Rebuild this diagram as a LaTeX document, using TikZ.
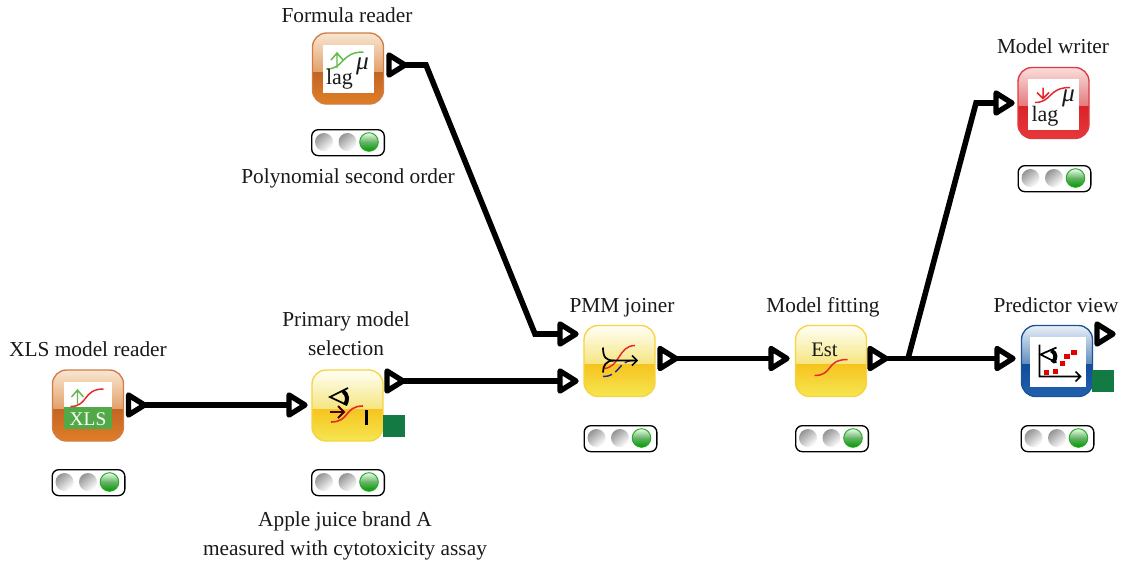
\documentclass[tikz,border=0pt]{standalone}
\usepackage{fontspec}
\setmainfont{Liberation Serif}
\usetikzlibrary{shapes.geometric,arrows.meta}
\definecolor{sqgreen}{HTML}{127A42}
\tikzset{
  px/.style={x=0.75pt,y=-0.75pt},
  lbl/.style={font=\fontsize{16pt}{21.5pt}\selectfont,align=center,inner sep=0pt,text=black!90,anchor=base},
  port/.style={isosceles triangle,isosceles triangle apex angle=65,isosceles triangle stretches,minimum width=15pt,minimum height=12pt,inner sep=0pt,outer sep=0pt,draw=black,fill=white,line width=4pt,line join=round,anchor=lower side},
  wire/.style={draw=black,line width=4.2pt,line join=miter},
  lampbox/.style={draw=black,line width=1pt,fill=white,rounded corners=5pt},
  sq/.style={fill=sqgreen,draw=none},
  dot/.style={fill=red!90!black,draw=none},
  icontxt/.style={inner sep=0pt,font=\fontsize{16.5pt}{16.5pt}\selectfont,text=black!90},
  icongreek/.style={inner sep=0pt,font=\fontsize{19pt}{19pt}\selectfont\itshape,text=black!90},
}
% icon background: name, x, y, colours top-a top-b bot-a bot-b border
\newcommand{\iconbg}[8]{%
  \node[minimum size=53.25pt,inner sep=0pt,anchor=north west] (#1) at (#2,#3) {};
  \begin{scope}[shift={(#2,#3)}]
    \begin{scope}
      \clip[rounded corners=10.5pt] (0,0) rectangle (71,71);
      \shade[top color=#4,bottom color=#5] (0,0) rectangle (71,39);
      \shade[top color=#6,bottom color=#7] (0,39) rectangle (71,71);
    \end{scope}
    \draw[#8,line width=1pt,rounded corners=10.5pt] (0,0) rectangle (71,71);
  \end{scope}}
% traffic light
\newcommand{\lamp}[3]{%
  \begin{scope}[shift={(#2,#3)}]
    \node[minimum width=54.5pt,minimum height=19.5pt,inner sep=0pt,anchor=north west,lampbox] (#1) at (0,0) {};
    \shade[top color=black!42,bottom color=white,shading angle=40] (13,13) circle (9);
    \shade[top color=black!42,bottom color=white,shading angle=40] (36.5,13) circle (9);
    \shade[top color=green!8!white,bottom color=green!60!black,middle color=green!50!black!60!white] (58,13) circle (9.3);
    \draw[green!60!black!85!white,line width=.7pt] (58,13) circle (9.3);
  \end{scope}}
\definecolor{oA}{HTML}{F9E6D2}\definecolor{oB}{HTML}{E2A069}\definecolor{oC}{HTML}{C26424}\definecolor{oD}{HTML}{E07E26}\definecolor{oE}{HTML}{CF7D45}
\definecolor{yA}{HTML}{FFFFF6}\definecolor{yB}{HTML}{F5E57E}\definecolor{yC}{HTML}{F6C41F}\definecolor{yD}{HTML}{F6E651}\definecolor{yE}{HTML}{F7D341}
\definecolor{rA}{HTML}{FBDDDD}\definecolor{rB}{HTML}{E4787C}\definecolor{rC}{HTML}{D92428}\definecolor{rD}{HTML}{E7383C}\definecolor{rE}{HTML}{DC3A40}
\definecolor{bA}{HTML}{EAF0F7}\definecolor{bB}{HTML}{5F8BBE}\definecolor{bC}{HTML}{114C9A}\definecolor{bD}{HTML}{2061AE}\definecolor{bE}{HTML}{1F5197}
\definecolor{crv}{HTML}{E8262C}\definecolor{grn}{HTML}{62BB46}\definecolor{grnb}{HTML}{52A947}
\begin{document}
\begin{tikzpicture}[px]
\useasboundingbox (0,0) rectangle (1123,562);
% labels
\node[lbl] (tformula) at (347,22.7) {Formula reader};
\node[lbl] (tpoly) at (348,183) {Polynomial second order};
\node[lbl] (twriter) at (1053,53) {Model writer};
\node[lbl] (tpmm) at (622,312.7) {PMM joiner};
\node[lbl] (tfit) at (823,312.7) {Model fitting};
\node[lbl] (tview) at (1056,312.7) {Predictor view};
\node[lbl] (txls) at (88,356.7) {XLS model reader};
\node[lbl] (tprim) at (346,355) {Primary model\\selection};
\node[lbl] (tapple) at (345,555) {Apple juice brand A\\measured with cytotoxicity assay};
% icons
\iconbg{formula}{312.5}{33}{oA}{oB}{oC}{oD}{oE}
\iconbg{xls}{52.5}{370}{oA}{oB}{oC}{oD}{oE}
\iconbg{prim}{312}{370}{yA}{yB}{yC}{yD}{yE}
\iconbg{pmm}{584}{325.5}{yA}{yB}{yC}{yD}{yE}
\iconbg{fit}{795.5}{325.5}{yA}{yB}{yC}{yD}{yE}
\iconbg{view}{1021.5}{325.5}{bA}{bB}{bC}{bD}{bE}
\iconbg{writer}{1018}{67.5}{rA}{rB}{rC}{rD}{rE}
% formula glyph
\begin{scope}[shift={(312.5,33)}]
  \fill[white] (10.5,12) rectangle (61.5,60);
  \draw[grn,line width=1.1pt] (14,36) .. controls (32,36) and (28,19) .. (51,19);
  \draw[grn,line width=1.1pt] (24.5,35) -- (24.5,20) (18.5,27) -- (24.5,20) -- (30.5,27);
  \node[icontxt] (fl) at (27,46.5) {lag};
  \node[icongreek] (fm) at (50,33) {μ};
\end{scope}
% xls glyph
\begin{scope}[shift={(52.5,370)}]
  \fill[white] (11.5,12) rectangle (59,37);
  \fill[grnb] (11.5,37) rectangle (59,59);
  \draw[crv,line width=1.1pt] (18,36.5) .. controls (36,36.5) and (30,19) .. (51,19);
  \draw[grn,line width=1.1pt] (25,34) -- (25,20) (19,27) -- (25,20) -- (31,27);
  \node[icontxt,font=\fontsize{14.5pt}{14.5pt}\selectfont,text=white] (xl) at (35.5,49) {XLS};
\end{scope}
% primary glyph
\begin{scope}[shift={(312,370)}]
  \draw[black,line width=1.3pt] (36,18) -- (18,27) -- (35,35);
  \draw[black,line width=3pt] (31,21) .. controls (36,25) and (36,30) .. (33,35);
  \draw[crv,line width=1.2pt] (19,52) .. controls (38,52) and (32,36) .. (51,36);
  \draw[black!60!red!70!black,line width=1.4pt] (18,42) -- (32,42) (26,36) -- (32,42) -- (26,48);
  \fill[black] (52.5,40) rectangle (55.5,55);
\end{scope}
% pmm glyph
\begin{scope}[shift={(584,325.5)}]
  \draw[crv,line width=1.1pt] (19,43) .. controls (36,43) and (34,20) .. (51,20);
  \draw[blue!50!black!85!white,line width=1.1pt,dash pattern=on 7pt off 3pt] (19,51) .. controls (36,51) and (34,35) .. (49,35);
  \draw[black,line width=1.3pt] (19,22) .. controls (19,32) and (22,35) .. (30,35) -- (53,35);
  \draw[black,line width=1.3pt] (19,47) .. controls (19,40) and (22,35) .. (30,35);
  \draw[black,line width=1.3pt] (48,30) -- (53,35) -- (48,40);
\end{scope}
% fitting glyph
\begin{scope}[shift={(795.5,325.5)}]
  \node[icontxt,font=\fontsize{15.5pt}{15.5pt}\selectfont] (es) at (29,24) {Est};
  \draw[crv,line width=1.1pt] (19,50) .. controls (38,50) and (30,34) .. (52,34);
\end{scope}
% view glyph
\begin{scope}[shift={(1021.5,325.5)}]
  \fill[white] (8,11) rectangle (64,61);
  \draw[black,line width=1.2pt] (18,19) -- (18,51) -- (59,51) (54,46) -- (59,51) -- (54,56);
  \draw[black,line width=1.3pt] (35,22) -- (19,29) -- (35,37);
  \draw[black,line width=3pt] (30,25) .. controls (35,28) and (35,33) .. (31,37);
  \foreach \a/\b in {25/47,34/46,41/38,45.5/31,52.5/27} \fill[dot] (\a-2.7,\b-2.7) rectangle (\a+2.7,\b+2.7);
\end{scope}
% writer glyph
\begin{scope}[shift={(1018,67.5)}]
  \fill[white] (10,11) rectangle (61,62);
  \draw[crv,line width=1.1pt] (17,35) .. controls (34,35) and (30,20) .. (52,20);
  \draw[crv,line width=1.1pt] (25,20) -- (25,31) (19,25) -- (25,31) -- (31,25);
  \node[icontxt] (wl) at (27,49) {lag};
  \node[icongreek] (wm) at (50.5,31) {μ};
\end{scope}
% flow-variable squares
\node[sq,minimum size=16.5pt,inner sep=0pt,anchor=north west] (sqa) at (383,415) {};
\node[sq,minimum size=16.5pt,inner sep=0pt,anchor=north west] (sqb) at (1092,370) {};
% traffic lights
\lamp{lformula}{311}{129}
\lamp{lxls}{51.5}{469}
\lamp{lprim}{311}{469}
\lamp{lpmm}{583.5}{425}
\lamp{lfit}{795}{425}
\lamp{lview}{1020.5}{425}
\lamp{lwriter}{1017.5}{165}
% ports
\node[port] (pformula) at (389,65) {};
\node[port] (pxls) at (128.5,405) {};
\node[port] (pprimin) at (289,405) {};
\node[port] (pprimout) at (387,381) {};
\node[port] (ppmma) at (560,334) {};
\node[port] (ppmmb) at (560,381) {};
\node[port] (ppmmout) at (660,358.5) {};
\node[port] (pfitin) at (771,358.5) {};
\node[port] (pfitout) at (870,358.5) {};
\node[port] (pviewin) at (997,358.5) {};
\node[port] (pviewout) at (1097,334) {};
\node[port] (pwriter) at (996,103) {};
% connectors
\coordinate (b1) at (426,65);
\coordinate (b2) at (535,334);
\coordinate (fork) at (908,358.5);
\coordinate (b3) at (976,103);
\draw[wire] (pformula.apex) -- (b1) -- (b2) -- (ppmma.lower side);
\draw[wire] (pxls.apex) -- (pprimin.lower side);
\draw[wire] (pprimout.apex) -- (ppmmb.lower side);
\draw[wire] (ppmmout.apex) -- (pfitin.lower side);
\draw[wire] (pfitout.apex) -- (pviewin.lower side);
\draw[wire] (fork) -- (b3) -- (pwriter.lower side);
\end{tikzpicture}
\end{document}
